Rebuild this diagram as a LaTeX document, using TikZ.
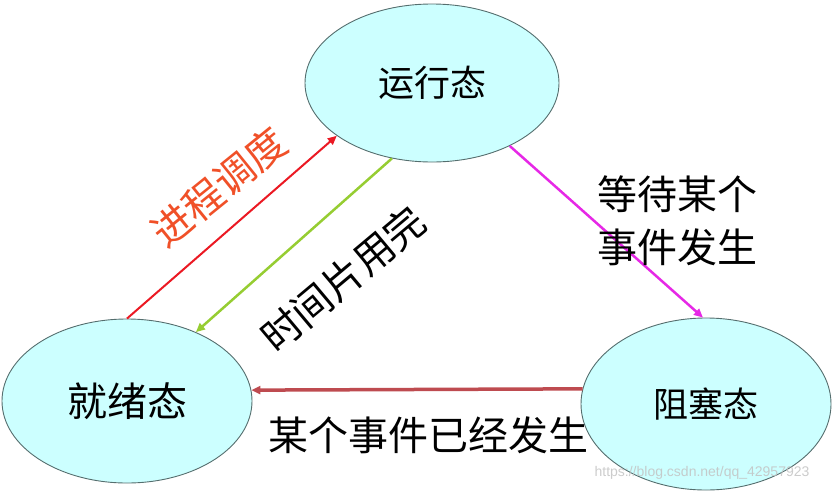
\documentclass[tikz,border=0pt]{standalone}
\usepackage{fontspec}
\newfontfamily\cjk{Noto Sans CJK SC}
\newfontfamily\wm{Liberation Sans}
\usetikzlibrary{shapes.geometric,arrows.meta}
\definecolor{statefill}{RGB}{204,255,255}
\definecolor{stateline}{RGB}{85,110,110}
\definecolor{arrred}{RGB}{235,25,35}
\definecolor{arrgreen}{RGB}{150,205,50}
\definecolor{arrmag}{RGB}{230,40,230}
\definecolor{arrbrown}{RGB}{190,75,80}
\definecolor{lblorange}{RGB}{240,80,40}
\definecolor{wmgray}{RGB}{195,195,195}
\tikzset{
  state/.style={ellipse, draw=stateline, line width=0.9pt, fill=statefill, inner sep=0pt, font=\cjk},
  conn/.style={-{Triangle[length=9pt,width=8pt]}},
  lbl/.style={font=\cjk\fontsize{40}{53}\selectfont, inner sep=0pt, align=center},
}
\begin{document}
\begin{tikzpicture}[x=1pt,y=-1pt]
\useasboundingbox (0,0) rectangle (834,493);
\node[state, minimum width=254pt, minimum height=158pt, font=\cjk\fontsize{36}{40}\selectfont] (run) at (432,83) {运行态};
\node[state, minimum width=250pt, minimum height=164pt, font=\cjk\fontsize{40}{44}\selectfont] (ready) at (127,401) {就绪态};
\node[state, minimum width=250pt, minimum height=172pt, font=\cjk\fontsize{35}{40}\selectfont] (block) at (706,404) {阻塞态};

\draw[conn, arrred, line width=2pt] (ready.90) -- (run.209.5);
\draw[conn, arrgreen, line width=2.5pt] (run.242.5) -- (ready.45);
\draw[conn, arrmag, line width=2.5pt] (run.321.5) -- (block.92.6);
\draw[conn, arrbrown, line width=3.5pt] (block.173.6) -- (ready.5);

\node[lbl, text=lblorange, rotate=39] (sched) at (219,187) {进程调度};
\node[lbl, rotate=40] (slice) at (343,279) {时间片用完};
\node[lbl] (wait) at (677,221) {等待某个\\事件发生};
\node[lbl] (occur) at (428,435) {某个事件已经发生};
\node[font=\wm\fontsize{14}{16}\selectfont, text=wmgray, text opacity=0.85, inner sep=0pt] (mark) at (702,473) {https://blog.csdn.net/qq\_42957923};
\end{tikzpicture}
\end{document}
